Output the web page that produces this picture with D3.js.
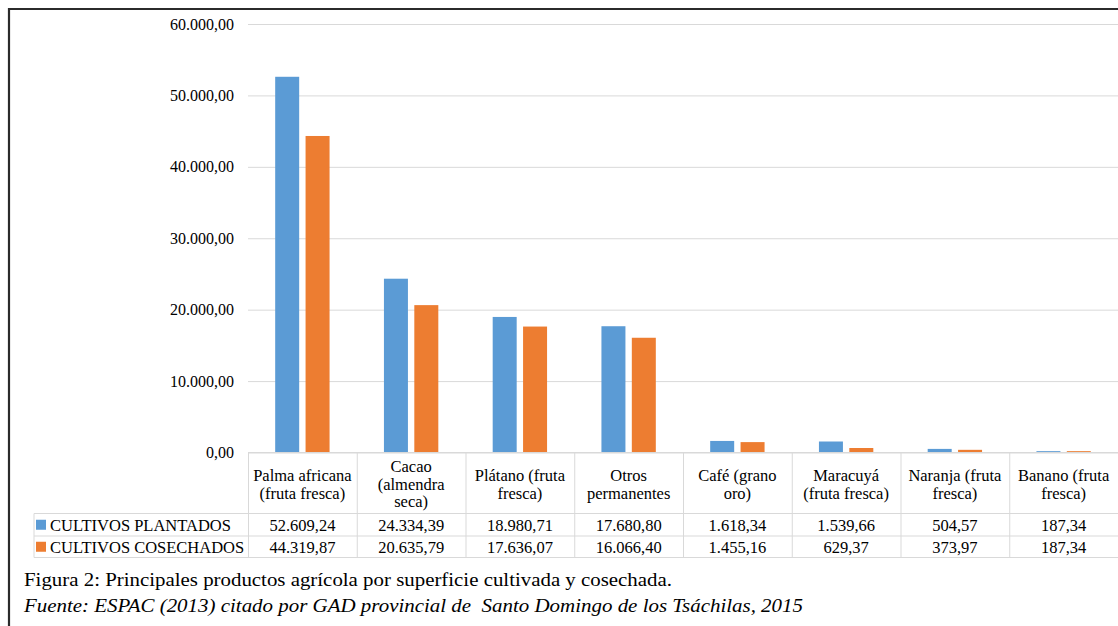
<!DOCTYPE html>
<html>
<head>
<meta charset="utf-8">
<script src="https://cdn.jsdelivr.net/npm/d3@7"></script>
</head>
<body style="margin:0;padding:0;background:#fff">
<svg id="chart" width="1118" height="626" style="display:block"></svg>
<script>
// ---------- DATA ----------
const categories = [
  ["Palma africana", "(fruta fresca)"],
  ["Cacao", "(almendra", "seca)"],
  ["Plátano (fruta", "fresca)"],
  ["Otros", "permanentes"],
  ["Café (grano", "oro)"],
  ["Maracuyá", "(fruta fresca)"],
  ["Naranja (fruta", "fresca)"],
  ["Banano (fruta", "fresca)"]
];
const seriesNames = ["CULTIVOS PLANTADOS", "CULTIVOS COSECHADOS"];
const plantados  = [52609.24, 24334.39, 18980.71, 17680.80, 1618.34, 1539.66, 504.57, 187.34];
const cosechados = [44319.87, 20635.79, 17636.07, 16066.40, 1455.16, 629.37, 373.97, 187.34];
const yTicks = [0, 10000, 20000, 30000, 40000, 50000, 60000];
const captionTitle = "Figura 2: Principales productos agrícola por superficie cultivada y cosechada.";
const captionSource = "Fuente: ESPAC (2013) citado por GAD provincial de  Santo Domingo de los Tsáchilas, 2015";

// ---------- SETUP ----------
const FONT = "'Liberation Serif', 'Times New Roman', Times, serif";
const colors = ["#5B9BD5", "#ED7D31"];
const series = [plantados, cosechados];
const locale = d3.formatLocale({ decimal: ",", thousands: ".", grouping: [3], currency: ["", ""] });
const fmt = locale.format(",.2f");

const svg = d3.select("#chart");
const plotLeft = 248, plotRight = 1118, plotTop = 24, plotBottom = 452.5;
const rowTops = [452.5, 513.5, 536, 557.5];   // header, row1, row2, bottom
const tableLeft = 34;

const x = d3.scaleBand().domain(d3.range(categories.length)).range([plotLeft, plotRight]).padding(0);
const bw = x.bandwidth();
const x1 = d3.scaleBand().domain(d3.range(series.length)).range([bw * 0.25, bw * 0.75]).paddingInner(0.21);
const y = d3.scaleLinear().domain([0, 60000]).range([plotBottom, plotTop]);

// outer frame
svg.append("path").attr("d", "M9,626 V9 H1118").attr("fill", "none").attr("stroke", "#2b2b2b").attr("stroke-width", 2.2);

// gridlines + y labels via axis
const yAxis = d3.axisLeft(y).tickValues(yTicks).tickFormat(fmt).tickSize(-(plotRight - plotLeft)).tickPadding(14);
const gy = svg.append("g").attr("transform", `translate(${plotLeft},0)`).call(yAxis);
gy.select(".domain").remove();
gy.selectAll(".tick line").attr("stroke", "#d9d9d9").attr("stroke-width", 1);
gy.selectAll(".tick text").attr("fill", "#000").style("font-family", FONT).style("font-size", "16px");

// bars
series.forEach((vals, si) => {
  svg.append("g").selectAll("rect").data(vals).join("rect")
    .attr("x", (d, i) => x(i) + x1(si))
    .attr("width", x1.bandwidth())
    .attr("y", d => y(d))
    .attr("height", d => y(0) - y(d))
    .attr("fill", colors[si]);
});

// ---------- DATA TABLE ----------
const tbl = svg.append("g").attr("stroke", "#d9d9d9").attr("stroke-width", 1).attr("fill", "none");
tbl.append("line").attr("x1", plotLeft).attr("x2", plotRight).attr("y1", rowTops[0]).attr("y2", rowTops[0]);
[1, 2, 3].forEach(k => tbl.append("line").attr("x1", tableLeft).attr("x2", plotRight).attr("y1", rowTops[k]).attr("y2", rowTops[k]));
tbl.append("line").attr("x1", tableLeft).attr("x2", tableLeft).attr("y1", rowTops[1]).attr("y2", rowTops[3]);
d3.range(categories.length).forEach(i => {
  tbl.append("line").attr("x1", x(i) + 0.5).attr("x2", x(i) + 0.5).attr("y1", rowTops[0]).attr("y2", rowTops[3]);
});

function txt(sel) {
  return sel.style("font-family", FONT).style("font-size", "16.5px").attr("fill", "#000");
}

// header labels
const lineH = 17.5;
const headerMid = (rowTops[0] + rowTops[1]) / 2 + 1;
categories.forEach((lines, i) => {
  const cx = x(i) + bw / 2;
  const t = txt(svg.append("text").attr("text-anchor", "middle"));
  lines.forEach((ln, j) => {
    t.append("tspan").attr("x", cx)
      .attr("y", headerMid + (j - (lines.length - 1) / 2) * lineH)
      .attr("dy", "0.35em").text(ln);
  });
});

// series rows
series.forEach((vals, si) => {
  const mid = (rowTops[si + 1] + rowTops[si + 2]) / 2;
  svg.append("rect").attr("x", 36).attr("y", mid - 5).attr("width", 10).attr("height", 10).attr("fill", colors[si]);
  txt(svg.append("text").attr("x", 50).attr("y", mid).attr("dy", "0.35em")).text(seriesNames[si]);
  txt(svg.append("g").selectAll("text").data(vals).join("text")
    .attr("x", (d, i) => x(i) + bw / 2).attr("y", mid).attr("dy", "0.35em")
    .attr("text-anchor", "middle"))
    .text(d => fmt(d));
});

// ---------- CAPTION ----------
svg.append("text").attr("x", 24).attr("y", 586).attr("fill", "#000")
  .style("font-family", FONT).style("font-size", "19px")
  .attr("textLength", 648).attr("lengthAdjust", "spacingAndGlyphs").text(captionTitle);
svg.append("text").attr("x", 24).attr("y", 612).attr("fill", "#000")
  .style("font-family", FONT).style("font-size", "19px").style("font-style", "italic")
  .attr("textLength", 779).attr("lengthAdjust", "spacingAndGlyphs")
  .attr("xml:space", "preserve").style("white-space", "pre").text(captionSource);
</script>
</body>
</html>
